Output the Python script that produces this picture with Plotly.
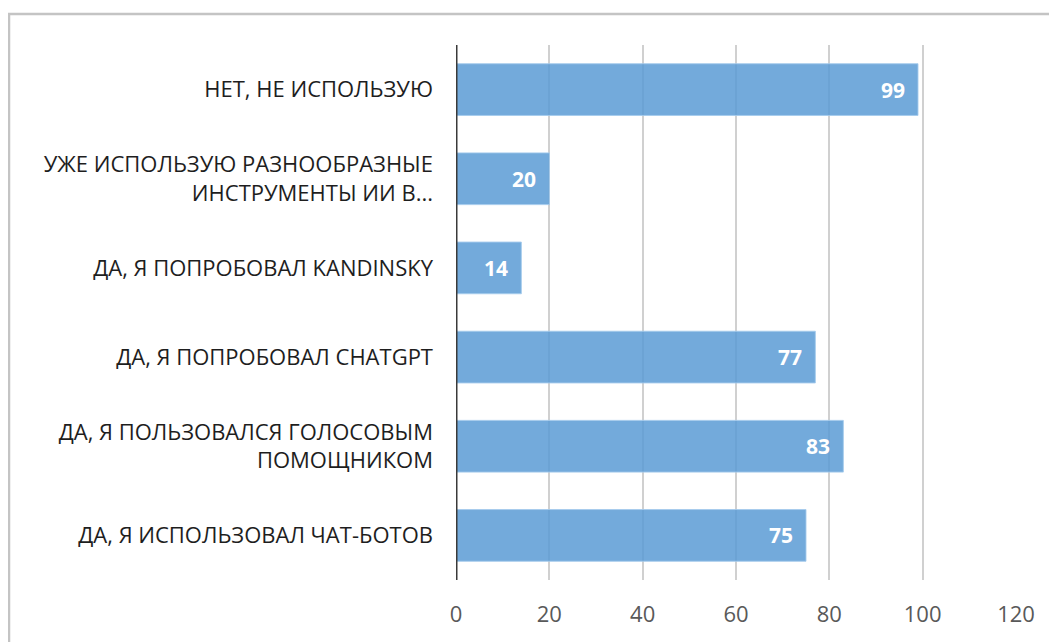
import plotly.graph_objects as go

categories = [
    "ДА, Я ИСПОЛЬЗОВАЛ ЧАТ-БОТОВ",
    "ДА, Я ПОЛЬЗОВАЛСЯ ГОЛОСОВЫМ<br>ПОМОЩНИКОМ",
    "ДА, Я ПОПРОБОВАЛ CHATGPT",
    "ДА, Я ПОПРОБОВАЛ KANDINSKY",
    "УЖЕ ИСПОЛЬЗУЮ РАЗНООБРАЗНЫЕ<br>ИНСТРУМЕНТЫ ИИ В...",
    "НЕТ, НЕ ИСПОЛЬЗУЮ",
]
values = [75, 83, 77, 14, 20, 99]
tick_vals = [0, 20, 40, 60, 80, 100, 120]

# page body has an 8px margin; size the figure to fill the rest of the window
W, H = 1049, 634
ml, mr, mt, mb = 448, 41, 37, 62
pw = W - ml - mr
ph = H - mt - mb

fig = go.Figure()
fig.add_trace(go.Bar(
    y=categories, x=values, orientation="h",
    marker=dict(color="rgba(91,155,213,0.85)",
                line=dict(color="rgba(165,203,236,0.9)", width=1)),
    textposition="none",
    hoverinfo="x+y",
))

annotations = [
    dict(x=v, y=c, xref="x", yref="y", text=str(v), showarrow=False,
         xanchor="right", xshift=-11, yshift=0,
         font=dict(family="Open Sans", size=21, color="white", weight="bold"))
    for c, v in zip(categories, values)
]

fig.update_layout(
    width=W, height=H,
    margin=dict(l=ml, r=mr, t=mt, b=mb, autoexpand=False),
    paper_bgcolor="white", plot_bgcolor="white",
    bargap=0.42,
    showlegend=False,
    font=dict(family="Open Sans", color="#1e1e1e"),
    xaxis=dict(range=[0, 120], tickvals=tick_vals, showgrid=True,
               gridcolor="#d0d0d0", gridwidth=2, zeroline=False,
               showline=False, ticks="",
               tickfont=dict(size=22, color="#595959"), ticklabelstandoff=19),
    yaxis=dict(showgrid=False, zeroline=False, showline=False, ticks="",
               tickfont=dict(size=22, color="#1e1e1e"), ticklabelstandoff=22,
               automargin=False),
    annotations=annotations,
    shapes=[
        dict(type="line", xref="x", yref="paper", x0=0, x1=0, y0=0, y1=1,
             line=dict(color="#3a3a3a", width=3), layer="above"),
        dict(type="rect", xref="paper", yref="paper",
             x0=(1 - ml) / pw, x1=(1080 - ml) / pw,
             y0=-(700 - (H - mb)) / ph, y1=(H - mb - 6) / ph,
             line=dict(color="#c4c4c4", width=2.5), fillcolor="rgba(0,0,0,0)",
             layer="below"),
    ],
)

fig.write_html("out.html")
